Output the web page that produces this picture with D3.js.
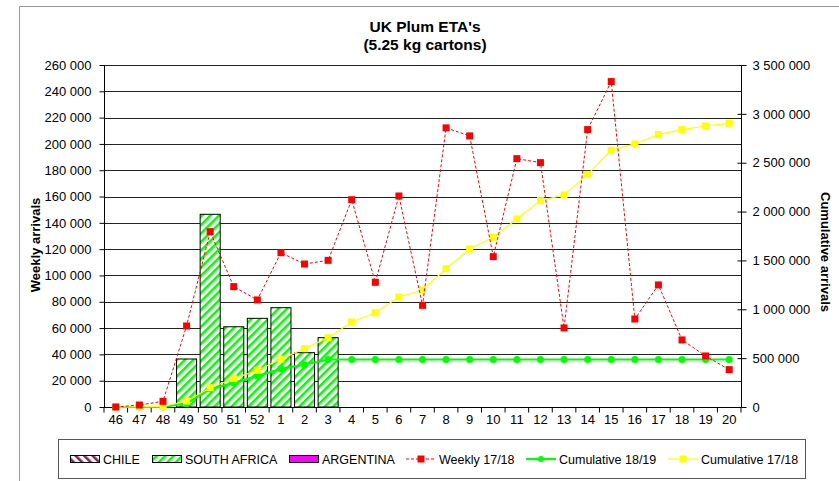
<!DOCTYPE html>
<html>
<head>
<meta charset="utf-8">
<script src="https://d3js.org/d3.v7.min.js"></script>
<style>
  body { margin: 0; background: #fff; }
  text { font-family: "Liberation Sans", Arial, sans-serif; }
</style>
</head>
<body>
<div id="chart"></div>
<script>
// week labels
var weeks = ["46","47","48","49","50","51","52","1","2","3","4","5","6","7","8","9","10","11","12","13","14","15","16","17","18","19","20"]

// stacked bars (weekly arrivals 18/19)
var chile       = [0,0,0,0,0,0,0,0,0,0,0,0,0,0,0,0,0,0,0,0,0,0,0,0,0,0,0]
var southAfrica = [0,0,0,36500,146500,61000,67400,75500,41300,52700,0,0,0,0,0,0,0,0,0,0,0,0,0,0,0,0,0]
var argentina   = [0,0,0,0,0,0,0,0,0,0,0,0,0,0,0,0,0,0,0,0,0,0,0,0,0,0,0]

// lines
var weekly1718 = [0,1500,4300,61600,133300,91500,81400,117300,108700,111500,157600,94800,160400,77300,212200,206100,114300,188800,185800,60100,210900,247400,66900,92800,51000,38800,28400]
var cum1819 = [0,0,0,37000,184000,247000,316000,391000,432000,486000,486000,486000,486000,486000,486000,486000,486000,486000,486000,486000,486000,486000,486000,486000,486000,486000,486000]
var cum1718 = [0,3000,5000,61000,197000,290000,375000,491000,597000,709000,870000,965000,1125000,1197000,1415000,1617000,1737000,1924000,2112000,2170000,2381000,2627000,2692000,2787000,2838000,2876000,2903000]

var leftTicks = [0,20000,40000,60000,80000,100000,120000,140000,160000,180000,200000,220000,240000,260000]
var rightTicks = [0,500000,1000000,1500000,2000000,2500000,3000000,3500000]

var W = 839, H = 481
var pL = 104, pR = 741, pT = 65, pB = 407

var fmt = function(v) { return d3.format(",")(v).replace(/,/g, " ") }

var svg = d3.select("#chart").append("svg")
  .attr("width", W).attr("height", H)

// patterns
var defs = svg.append("defs")
var pSA = defs.append("pattern").attr("id", "saHatch")
  .attr("patternUnits", "userSpaceOnUse").attr("width", 6).attr("height", 6)
  .attr("patternTransform", "rotate(45)")
pSA.append("rect").attr("width", 6).attr("height", 6).attr("fill", "#fff")
pSA.append("rect").attr("width", 2.6).attr("height", 6).attr("fill", "#00ff00")
var pCh = defs.append("pattern").attr("id", "chHatch")
  .attr("patternUnits", "userSpaceOnUse").attr("width", 6).attr("height", 6)
  .attr("patternTransform", "rotate(-45)")
pCh.append("rect").attr("width", 6).attr("height", 6).attr("fill", "#fff")
pCh.append("rect").attr("width", 2.6).attr("height", 6).attr("fill", "#8b2252")

// outer frame
svg.append("path").attr("d", "M19.5," + H + "V6.5H" + W)
  .attr("fill", "none").attr("stroke", "#999").attr("stroke-width", 1)

var x = d3.scaleBand().domain(weeks).range([pL, pR]).paddingInner(0.15).paddingOuter(0.075)
var xb = d3.scaleBand().domain(weeks).range([pL, pR])
var y = d3.scaleLinear().domain([0, 260000]).range([pB, pT])
var y2 = d3.scaleLinear().domain([0, 3500000]).range([pB, pT])

// gridlines
svg.append("g").selectAll("line").data(leftTicks.slice(1)).join("line")
  .attr("x1", pL).attr("x2", pR)
  .attr("y1", function(d) { return Math.round(y(d)) + 0.5 })
  .attr("y2", function(d) { return Math.round(y(d)) + 0.5 })
  .attr("stroke", "#222").attr("stroke-width", 1)

// title
svg.append("text").attr("x", 425).attr("y", 32).attr("text-anchor", "middle")
  .attr("font-size", 15.5).attr("font-weight", "bold").text("UK Plum ETA's")
svg.append("text").attr("x", 425).attr("y", 49.5).attr("text-anchor", "middle")
  .attr("font-size", 15.5).attr("font-weight", "bold").text("(5.25 kg cartons)")

// stacked bars
var barData = weeks.map(function(w, i) {
  return { week: w, chile: chile[i], sa: southAfrica[i], arg: argentina[i] }
})
var stack = d3.stack().keys(["chile", "sa", "arg"])(barData)
var fills = { chile: "url(#chHatch)", sa: "url(#saHatch)", arg: "#ff00ff" }
svg.append("g").selectAll("g").data(stack).join("g")
  .attr("fill", function(s) { return fills[s.key] })
  .selectAll("rect").data(function(s) { return s.filter(function(d) { return d[1] - d[0] > 0 }) }).join("rect")
  .attr("x", function(d) { return x(d.data.week) })
  .attr("width", x.bandwidth())
  .attr("y", function(d) { return y(d[1]) })
  .attr("height", function(d) { return y(d[0]) - y(d[1]) })
  .attr("stroke", "#000").attr("stroke-width", 1)

// axes
var yAxis = svg.append("g").attr("transform", "translate(" + (pL + 0.5) + ",0)")
  .call(d3.axisLeft(y).tickValues(leftTicks).tickFormat(fmt).tickSize(5).tickPadding(8))
var y2Axis = svg.append("g").attr("transform", "translate(" + (pR + 0.5) + ",0)")
  .call(d3.axisRight(y2).tickValues(rightTicks).tickFormat(fmt).tickSize(5).tickPadding(6))
y2Axis.selectAll(".tick line").attr("x1", -4)
var xAxis = svg.append("g").attr("transform", "translate(0," + (pB + 0.5) + ")")
  .call(d3.axisBottom(xb).tickSize(0).tickPadding(7))
xAxis.selectAll(".tick")
  .append("line").attr("x1", -xb.bandwidth() / 2).attr("x2", -xb.bandwidth() / 2)
  .attr("y1", 0).attr("y2", 5).attr("stroke", "#000")
xAxis.append("line").attr("x1", pR).attr("x2", pR).attr("y1", 0).attr("y2", 5).attr("stroke", "#000")
;[yAxis, y2Axis, xAxis].forEach(function(a) {
  a.select(".domain").attr("stroke", "#000")
  a.selectAll("text").attr("font-size", 13).attr("fill", "#000")
    .attr("font-family", "Liberation Sans, Arial, sans-serif")
  a.selectAll(".tick line").attr("stroke", "#000")
})
xAxis.select(".domain").attr("d", "M" + pL + ",0H" + pR)
yAxis.select(".domain").attr("d", "M0," + pT + "V" + pB)
y2Axis.select(".domain").attr("d", "M0," + pT + "V" + pB)

// axis titles
svg.append("text").attr("transform", "translate(40,245) rotate(-90)")
  .attr("text-anchor", "middle").attr("font-size", 13).attr("font-weight", "bold").text("Weekly arrivals")
svg.append("text").attr("transform", "translate(821,252) rotate(90)")
  .attr("text-anchor", "middle").attr("font-size", 13).attr("font-weight", "bold").text("Cumulative arrivals")

var cx = function(i) { return xb(weeks[i]) + xb.bandwidth() / 2 }

// cumulative 18/19 (green)
svg.append("path").datum(cum1819)
  .attr("fill", "none").attr("stroke", "#00ff00").attr("stroke-width", 2.2)
  .attr("d", d3.line().x(function(d, i) { return cx(i) }).y(function(d) { return y2(d) }))
svg.append("g").selectAll("circle").data(cum1819).join("circle")
  .attr("cx", function(d, i) { return cx(i) }).attr("cy", function(d) { return y2(d) })
  .attr("r", 3.5).attr("fill", "#00ff00")

// cumulative 17/18 (yellow)
svg.append("path").datum(cum1718)
  .attr("fill", "none").attr("stroke", "#ffff00").attr("stroke-width", 1.2)
  .attr("d", d3.line().x(function(d, i) { return cx(i) }).y(function(d) { return y2(d) }))
svg.append("g").selectAll("rect").data(cum1718).join("rect")
  .attr("x", function(d, i) { return cx(i) - 3.5 }).attr("y", function(d) { return y2(d) - 3.5 })
  .attr("width", 7).attr("height", 7).attr("fill", "#ffff00")

// weekly 17/18 (red dashed)
svg.append("path").datum(weekly1718)
  .attr("fill", "none").attr("stroke", "#ff0000").attr("stroke-width", 1)
  .attr("stroke-dasharray", "3,2")
  .attr("d", d3.line().x(function(d, i) { return cx(i) }).y(function(d) { return y(d) }))
svg.append("g").selectAll("rect").data(weekly1718).join("rect")
  .attr("x", function(d, i) { return cx(i) - 3.5 }).attr("y", function(d) { return y(d) - 3.5 })
  .attr("width", 7).attr("height", 7).attr("fill", "#ff0000")

// legend
var lg = svg.append("g")
lg.append("rect").attr("x", 58.5).attr("y", 439.5).attr("width", 747).attr("height", 39)
  .attr("fill", "#fff").attr("stroke", "#555").attr("stroke-width", 1)
var ly = 459
var swatches = [
  { x: 70, fill: "url(#chHatch)", label: "CHILE" },
  { x: 152, fill: "url(#saHatch)", label: "SOUTH AFRICA" },
  { x: 289, fill: "#ff00ff", label: "ARGENTINA" }
]
swatches.forEach(function(s) {
  lg.append("rect").attr("x", s.x + 0.5).attr("y", ly - 3.5).attr("width", 29).attr("height", 7)
    .attr("fill", s.fill).attr("stroke", "#000").attr("stroke-width", 1)
  lg.append("text").attr("x", s.x + 33).attr("y", ly + 4.5).attr("font-size", 12.5).text(s.label)
})
var lineItems = [
  { x: 406, color: "#ff0000", dash: "3,2", w: 1, mark: "square", label: "Weekly 17/18" },
  { x: 526, color: "#00ff00", dash: null, w: 2.2, mark: "circle", label: "Cumulative 18/19" },
  { x: 668, color: "#ffff00", dash: null, w: 1.2, mark: "square", label: "Cumulative 17/18" }
]
lineItems.forEach(function(l) {
  lg.append("line").attr("x1", l.x).attr("x2", l.x + 30).attr("y1", ly).attr("y2", ly)
    .attr("stroke", l.color).attr("stroke-width", l.w).attr("stroke-dasharray", l.dash)
  if (l.mark === "square") {
    lg.append("rect").attr("x", l.x + 11.5).attr("y", ly - 3.5).attr("width", 7).attr("height", 7).attr("fill", l.color)
  } else {
    lg.append("circle").attr("cx", l.x + 15).attr("cy", ly).attr("r", 3).attr("fill", l.color)
  }
  lg.append("text").attr("x", l.x + 33).attr("y", ly + 4.5).attr("font-size", 12.5).text(l.label)
})
</script>
</body>
</html>
